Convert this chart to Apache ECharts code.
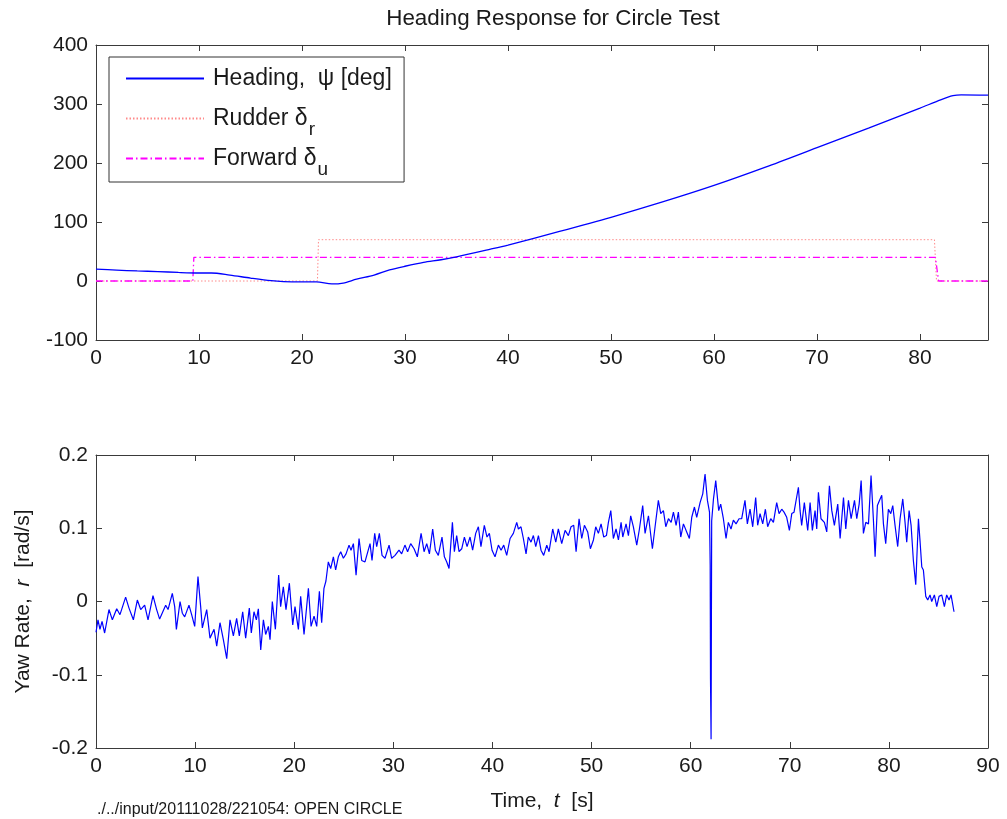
<!DOCTYPE html>
<html>
<head>
<meta charset="utf-8">
<script src="https://cdn.jsdelivr.net/npm/echarts@6/dist/echarts.min.js"></script>
<style>
  html, body { margin: 0; padding: 0; background: #fff; }
  #chart { width: 1007px; height: 819px; }
</style>
</head>
<body>
<div id="chart"></div>
<script>
// ---- Heading response (top panel) ----
const headingTime = [0, 2, 4, 6, 8, 10, 11.2, 13, 15, 17, 18.2, 20, 21.4, 22.9, 24, 25.3, 27, 28.5, 30, 31.8, 33.5, 35, 38.3, 40, 45, 50, 55, 60, 65, 70, 75, 80, 82, 83.2, 84, 86.6];
const headingDeg  = [20, 18.5, 17, 16, 14.5, 13.6, 13.6, 10, 5, 0.5, -1, -1.5, -1.5, -5, -3.5, 3, 10, 18.7, 25, 31.6, 36, 41, 54, 61, 84, 108, 134, 162, 193, 226, 259, 293, 307, 314, 315.5, 315];

const rudderTime = [0, 21.5, 21.6, 81.4, 81.6, 86.6];
const rudderDeg  = [0, 0, 70, 70, 0, 0];

const forwardTime = [0, 9.4, 9.5, 81.5, 81.8, 86.6];
const forwardDeg  = [0, 0, 40, 40, 0, 0];

// ---- Yaw rate (bottom panel) ----
const yawTime = [
  0.0, 0.2, 0.4, 0.61, 0.87, 1.31, 1.65, 2.09, 2.42, 2.99, 3.33, 3.77, 4.17, 4.51, 4.91, 5.25, 5.75, 6.12, 6.42, 7.03,
  7.27, 7.70, 7.94, 8.11, 8.48, 8.71, 8.95, 9.38, 9.65, 9.96, 10.29, 10.56, 10.73, 11.17, 11.50, 11.91, 12.18, 12.51, 12.85, 13.19,
  13.52, 13.86, 14.19, 14.46, 14.80, 15.10, 15.47, 15.67, 15.94, 16.18, 16.38, 16.62, 16.89, 17.12, 17.39, 17.56, 17.79,
  18.1, 18.43, 18.63, 18.90, 19.17, 19.51, 19.85, 20.08, 20.42, 20.65, 20.99, 21.43, 21.70, 22.0, 22.27, 22.54, 22.77, 23.0, 23.2, 23.44,
  23.68, 23.95, 24.18, 24.45, 24.69, 24.96, 25.23, 25.53, 25.73, 25.97, 26.24, 26.54, 26.81, 27.14, 27.65, 27.85, 28.12, 28.32, 28.59, 28.86,
  29.16, 29.57, 29.83, 30.17, 30.57, 30.84, 31.17, 31.44, 31.75, 32.09, 32.42, 32.80, 33.10, 33.37, 33.64, 33.97, 34.24, 34.54, 34.91, 35.15,
  35.39, 35.62,
  35.96, 36.16, 36.39, 36.63, 36.9, 37.17, 37.44, 37.74, 38.0, 38.31, 38.58, 38.84, 39.18, 39.45, 39.69, 39.96, 40.26, 40.6, 40.87, 41.14,
  41.44, 41.78, 42.11, 42.45, 42.62, 42.88, 43.12, 43.39, 43.62, 43.89, 44.13, 44.37, 44.64, 44.9, 45.17, 45.48, 45.71, 46.08, 46.39, 46.65,
  46.99, 47.33, 47.66, 47.93, 48.2, 48.44, 48.74, 49.01, 49.28, 49.61, 49.88, 50.19, 50.42, 50.69, 50.96, 51.23, 51.5, 51.7, 51.94, 52.2,
  52.47, 52.71, 52.98,
  53.15, 53.48, 53.72, 53.95, 54.22, 54.56, 54.83, 55.16, 55.4, 55.74, 56.14, 56.41, 56.74, 56.98, 57.25, 57.49, 57.76, 58.03, 58.26, 58.53,
  58.76, 59.0, 59.27, 59.6, 59.87, 60.11, 60.38, 60.61, 60.95, 61.22, 61.45, 61.69, 61.9, 61.97, 62.0, 62.06, 62.12, 62.3, 62.53, 62.83,
  63.03, 63.3, 63.57, 63.8, 64.07, 64.31, 64.58, 64.88, 65.15, 65.48, 65.72, 65.99, 66.26, 66.56, 66.76, 67.0, 67.27, 67.54, 67.77, 68.08,
  68.35, 68.68, 68.92, 69.19, 69.42, 69.69, 69.96, 70.2, 70.43,
  70.87, 71.04, 71.2, 71.47, 71.64, 71.81, 72.05, 72.28, 72.55, 72.72, 72.89, 73.15, 73.49, 73.73, 74.0, 74.24, 74.5, 74.84, 75.08, 75.42,
  75.65, 75.92, 76.19, 76.53, 76.76, 77.0, 77.2, 77.43, 77.67, 77.94, 78.2, 78.44, 78.61, 78.84, 79.05, 79.28, 79.45, 79.68, 79.95, 80.19,
  80.39, 80.62, 80.89, 81.13, 81.4, 81.63, 81.8, 82.04, 82.24, 82.47, 82.71, 82.98, 83.15, 83.32, 83.48, 83.72, 83.92, 84.15, 84.32, 84.59,
  84.83, 85.06, 85.33, 85.6, 85.83, 86.07, 86.27, 86.57
];
const yawRate = [
  -0.042, -0.025, -0.038, -0.027, -0.043, -0.011, -0.025, -0.010, -0.018, 0.006, -0.009, -0.025, 0.002, -0.011, -0.005, -0.025, 0.008, -0.011, -0.024, -0.005,
  -0.011, 0.011, -0.007, -0.038, 0.0, -0.016, -0.021, -0.005, -0.018, -0.034, 0.034, -0.007, -0.036, -0.011, -0.050, -0.038, -0.061, -0.029, -0.052, -0.078,
  -0.025, -0.047, -0.023, -0.047, -0.014, -0.050, -0.009, -0.043, -0.014, -0.025, -0.010, -0.066, -0.025, -0.045, -0.034, -0.052, 0.0,
  -0.038, 0.036, -0.007, 0.020, -0.011, 0.025, -0.032, -0.007, -0.038, 0.007, -0.045, 0.018, -0.034, -0.020, -0.034, 0.014, -0.029, 0.018, 0.028, 0.054,
  0.045, 0.061, 0.043, 0.061, 0.068, 0.059, 0.065, 0.077, 0.070, 0.079, 0.036, 0.086, 0.056, 0.054, 0.079, 0.056, 0.093, 0.075, 0.093, 0.063,
  0.059, 0.077, 0.059, 0.063, 0.070, 0.065, 0.077, 0.068, 0.079, 0.072, 0.061, 0.093, 0.068, 0.079, 0.065, 0.099, 0.070, 0.063, 0.088, 0.061,
  0.054, 0.045,
  0.108, 0.068, 0.090, 0.068, 0.072, 0.088, 0.075, 0.088, 0.070, 0.093, 0.102, 0.075, 0.104, 0.088, 0.093, 0.070, 0.061, 0.077, 0.070, 0.077,
  0.063, 0.086, 0.093, 0.108, 0.099, 0.102, 0.086, 0.065, 0.088, 0.081, 0.090, 0.075, 0.090, 0.070, 0.063, 0.077, 0.068, 0.099, 0.081, 0.099,
  0.079, 0.097, 0.090, 0.102, 0.104, 0.068, 0.113, 0.086, 0.104, 0.095, 0.072, 0.084, 0.102, 0.093, 0.106, 0.088, 0.090, 0.108, 0.124, 0.086,
  0.099, 0.084, 0.108,
  0.088, 0.106, 0.090, 0.117, 0.102, 0.077, 0.099, 0.131, 0.093, 0.117, 0.072, 0.102, 0.138, 0.120, 0.124, 0.102, 0.113, 0.108, 0.122, 0.104,
  0.122, 0.088, 0.106, 0.095, 0.086, 0.115, 0.129, 0.115, 0.135, 0.147, 0.174, 0.138, 0.122, 0.050, -0.105, -0.188, 0.110, 0.140, 0.165, 0.124,
  0.133, 0.113, 0.086, 0.108, 0.099, 0.111, 0.106, 0.113, 0.113, 0.138, 0.106, 0.126, 0.102, 0.142, 0.104, 0.120, 0.106, 0.126, 0.102, 0.113,
  0.108, 0.135, 0.120, 0.126, 0.122, 0.115, 0.097, 0.120, 0.122,
  0.156, 0.124, 0.104, 0.135, 0.133, 0.097, 0.135, 0.097, 0.124, 0.099, 0.149, 0.113, 0.108, 0.095, 0.158, 0.124, 0.104, 0.133, 0.086, 0.142,
  0.099, 0.138, 0.113, 0.138, 0.113, 0.133, 0.165, 0.093, 0.108, 0.106, 0.172, 0.111, 0.061, 0.131, 0.138, 0.145, 0.106, 0.079, 0.126, 0.120,
  0.131, 0.104, 0.075, 0.113, 0.140, 0.108, 0.081, 0.124, 0.104, 0.056, 0.023, 0.113, 0.081, 0.047, 0.043, 0.007, 0.002, 0.009, 0.0, 0.009,
  -0.007, 0.007, 0.009, -0.007, 0.009, 0.002, 0.009, -0.014
];

const headingTicks = [-100, 0, 100, 200, 300, 400];
const yawTicks = [-0.2, -0.1, 0, 0.1, 0.2];

const TXT = '#1a1a1a';
const AX = '#3a3a3a';
const FONT = 'Liberation Sans, Arial, sans-serif';

function pairs(xs, ys) { return xs.map((x, i) => [x, ys[i]]); }

function boxAxis(base, pos, showLabels) {
  return Object.assign({
    type: 'value',
    position: pos,
    axisLine: { show: true, onZero: false, lineStyle: { color: AX, width: 1 } },
    axisTick: { show: true, inside: true, length: 6, lineStyle: { color: AX } },
    splitLine: { show: false },
    axisLabel: showLabels
      ? { show: true, color: TXT, fontSize: 21, fontFamily: FONT, margin: 8 }
      : { show: false }
  }, base);
}

const labelEvery10 = v => (Math.abs(v % 10) < 1e-9 ? String(v) : '');
const yawLabel = v => (Math.abs(v) < 1e-9 ? '0' : String(+v.toFixed(1)));

const nameRich = {
  a: { fontSize: 21, color: TXT, fontFamily: FONT },
  i: { fontSize: 21, color: TXT, fontFamily: FONT, fontStyle: 'italic' }
};

const chart = echarts.init(document.getElementById('chart'), null, { renderer: 'canvas' });

const option = {
  animation: false,
  backgroundColor: '#ffffff',
  textStyle: { fontFamily: FONT },
  title: [
    {
      text: 'Heading Response for Circle Test',
      left: 553, top: 8, textAlign: 'center', padding: 0,
      textStyle: { fontSize: 22.4, fontWeight: 'normal', color: TXT, fontFamily: FONT }
    },
    {
      text: './../input/20111028/221054: OPEN CIRCLE',
      left: 97, top: 802, padding: 0,
      textStyle: { fontSize: 16, fontWeight: 'normal', color: TXT, fontFamily: FONT }
    }
  ],
  grid: [
    { left: 96, top: 45, width: 892, height: 295 },
    { left: 96, top: 455, width: 892, height: 293 }
  ],
  legend: {
    orient: 'vertical',
    left: 109, top: 57,
    padding: [1, 6, 3, 16],
    itemGap: -1,
    itemWidth: 78, itemHeight: 14,
    borderColor: '#333', borderWidth: 1,
    backgroundColor: '#fff',
    selectedMode: false,
    itemStyle: { opacity: 0 },
    data: ['Heading', 'Rudder', 'Forward'],
    formatter: function (name) {
      if (name === 'Heading') return '{m|Heading,  ψ [deg]}{s| }';
      if (name === 'Rudder') return '{m|Rudder δ}{s|r}';
      return '{m|Forward δ}{s|u}';
    },
    textStyle: {
      color: TXT, fontSize: 23, fontFamily: FONT, padding: [0, 0, 0, 4],
      rich: {
        m: { fontSize: 23, color: TXT, fontFamily: FONT },
        s: { fontSize: 19, color: TXT, fontFamily: FONT, lineHeight: 18, padding: [22, 0, 0, 1] }
      }
    }
  },
  xAxis: [
    boxAxis({ gridIndex: 0, min: 0, max: 86.6, interval: 10,
      axisLabel: { show: true, color: TXT, fontSize: 21, fontFamily: FONT, margin: 8, formatter: labelEvery10, showMaxLabel: false } }, 'bottom', true),
    boxAxis({ gridIndex: 0, min: 0, max: 86.6, interval: 10 }, 'top', false),
    boxAxis({ gridIndex: 1, min: 0, max: 90, interval: 10,
      name: '{a|Time,  }{i|t}{a|  [s]}', nameLocation: 'middle', nameGap: 43,
      nameTextStyle: { color: TXT, fontSize: 21, fontFamily: FONT, rich: nameRich } }, 'bottom', true),
    boxAxis({ gridIndex: 1, min: 0, max: 90, interval: 10 }, 'top', false)
  ],
  yAxis: [
    boxAxis({ gridIndex: 0, min: headingTicks[0], max: headingTicks[headingTicks.length - 1], interval: 100 }, 'left', true),
    boxAxis({ gridIndex: 0, min: headingTicks[0], max: headingTicks[headingTicks.length - 1], interval: 100 }, 'right', false),
    boxAxis({ gridIndex: 1, min: yawTicks[0], max: yawTicks[yawTicks.length - 1], interval: 0.1,
      axisLabel: { show: true, color: TXT, fontSize: 21, fontFamily: FONT, margin: 8, formatter: yawLabel },
      name: '{a|Yaw Rate,  }{i|r}{a|  [rad/s]}', nameLocation: 'middle', nameGap: 62,
      nameTextStyle: { color: TXT, fontSize: 21, fontFamily: FONT, rich: nameRich } }, 'left', true),
    boxAxis({ gridIndex: 1, min: yawTicks[0], max: yawTicks[yawTicks.length - 1], interval: 0.1 }, 'right', false)
  ],
  series: [
    {
      name: 'Heading', type: 'line', xAxisIndex: 0, yAxisIndex: 0,
      data: pairs(headingTime, headingDeg), symbol: 'none', smooth: 0.3,
      lineStyle: { color: '#0000ff', width: 1.3, type: 'solid' },
      itemStyle: { color: '#0000ff' }, z: 4
    },
    {
      name: 'Rudder', type: 'line', xAxisIndex: 0, yAxisIndex: 0,
      data: pairs(rudderTime, rudderDeg), symbol: 'none',
      lineStyle: { color: '#ff8a8a', width: 1, type: [1.5, 2] },
      itemStyle: { color: '#ff8a8a' }, z: 2
    },
    {
      name: 'Forward', type: 'line', xAxisIndex: 0, yAxisIndex: 0,
      data: pairs(forwardTime, forwardDeg), symbol: 'none',
      lineStyle: { color: '#ff00ff', width: 1.3, type: [7, 3, 1.5, 3] },
      itemStyle: { color: '#ff00ff' }, z: 3
    },
    {
      name: 'Yaw rate', type: 'line', xAxisIndex: 2, yAxisIndex: 2,
      data: pairs(yawTime, yawRate), symbol: 'none',
      lineStyle: { color: '#0000ff', width: 1.2 },
      itemStyle: { color: '#0000ff' }
    }
  ]
};

chart.setOption(option);
</script>
</body>
</html>
